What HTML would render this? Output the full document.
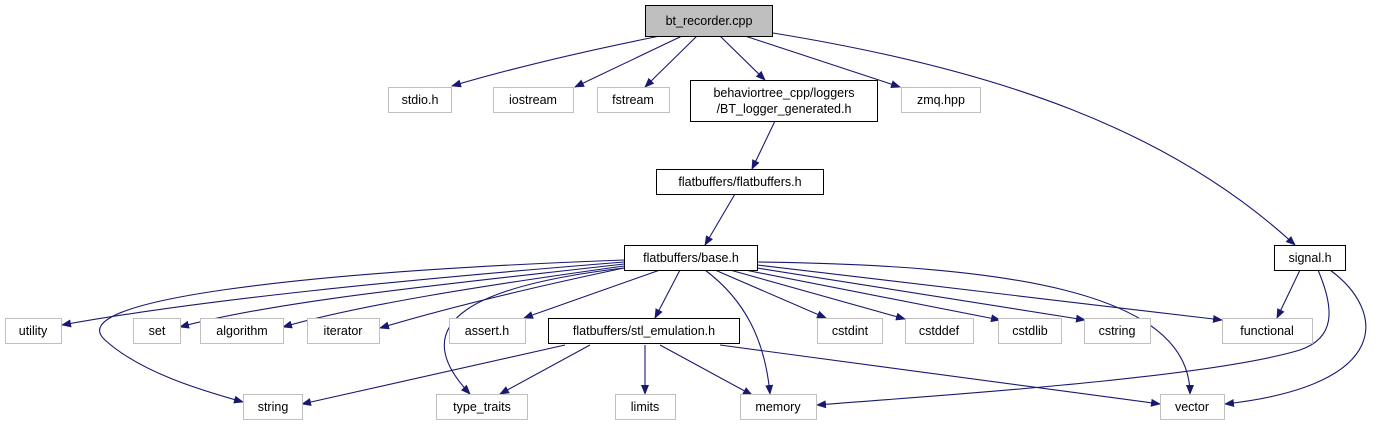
<!DOCTYPE html>
<html><head><meta charset="utf-8"><style>
html,body{margin:0;padding:0;background:#fff;}
svg text{font-family:"Liberation Sans","DejaVu Sans",sans-serif;font-size:12.5px;fill:#000;text-anchor:middle;}
</style></head><body>
<svg width="1380" height="425" viewBox="0 0 1380 425" xmlns="http://www.w3.org/2000/svg">
<defs><marker id="a" markerWidth="10" markerHeight="8" refX="9" refY="4" orient="auto" markerUnits="userSpaceOnUse"><path d="M0,0 L10,4 L0,8 z" fill="#191970"/></marker></defs>
<g fill="none" stroke="#191970" stroke-width="1.1" marker-end="url(#a)">
<path d="M660,36 Q540,60 452,86"/>
<path d="M682,36 L575,87"/>
<path d="M697,36 L645,87"/>
<path d="M720,36 L765,80"/>
<path d="M745,36 L900,87"/>
<path d="M773,33 C1000,70 1170,130 1295,245"/>
<path d="M775,121 L752,169"/>
<path d="M735,194 L705,245"/>
<path d="M624,262 C400,280 200,300 62,325"/>
<path d="M624,264 C450,284 280,300 180,327"/>
<path d="M624,266 C480,286 360,305 283,327"/>
<path d="M624,268 C520,290 440,310 380,328"/>
<path d="M660,270 L524,318"/>
<path d="M680,270 L655,318"/>
<path d="M624,260 C300,272 60,300 105,340 C140,372 200,390 243,402"/>
<path d="M624,268 C480,285 400,320 470,394"/>
<path d="M705,270 C745,300 765,340 770,394"/>
<path d="M715,270 L826,318"/>
<path d="M730,270 L905,319"/>
<path d="M745,270 L1000,320"/>
<path d="M757,268 L1085,320"/>
<path d="M757,265 L1222,320"/>
<path d="M757,262 C1000,265 1190,290 1190,394"/>
<path d="M565,345 L302,404"/>
<path d="M590,345 L500,394"/>
<path d="M645,345 L645,394"/>
<path d="M660,345 L752,395"/>
<path d="M720,345 L1160,404"/>
<path d="M1300,270 L1277,318"/>
<path d="M1318,270 C1335,310 1335,338 1300,350 C1200,380 900,398 817,405"/>
<path d="M1330,270 C1385,310 1395,385 1225,404"/>
</g>
<g stroke-width="1">
<rect x="645.5" y="5.5" width="127" height="31" fill="#bfbfbf" stroke="#000"/>
<g fill="#fff" stroke="#bfbfbf">
<rect x="388.5" y="87.5" width="63" height="25"/>
<rect x="493.5" y="87.5" width="80" height="25"/>
<rect x="597.5" y="87.5" width="72" height="25"/>
<rect x="901.5" y="87.5" width="79" height="25"/>
<rect x="5.5" y="318.5" width="56" height="25"/>
<rect x="133.5" y="318.5" width="47" height="25"/>
<rect x="200.5" y="318.5" width="83" height="25"/>
<rect x="307.5" y="318.5" width="72" height="25"/>
<rect x="449.5" y="318.5" width="76" height="25"/>
<rect x="817.5" y="318.5" width="65" height="25"/>
<rect x="905.5" y="318.5" width="68" height="25"/>
<rect x="998.5" y="318.5" width="63" height="25"/>
<rect x="1084.5" y="318.5" width="66" height="25"/>
<rect x="1222.5" y="318.5" width="90" height="25"/>
<rect x="243.5" y="394.5" width="59" height="25"/>
<rect x="436.5" y="394.5" width="91" height="25"/>
<rect x="615.5" y="394.5" width="60" height="25"/>
<rect x="740.5" y="394.5" width="76" height="25"/>
<rect x="1160.5" y="394.5" width="64" height="25"/>
</g>
<g fill="#fff" stroke="#000">
<rect x="690.5" y="80.5" width="187" height="41"/>
<rect x="656.5" y="169.5" width="167" height="25"/>
<rect x="624.5" y="245.5" width="133" height="25"/>
<rect x="1274.5" y="245.5" width="71" height="25"/>
<rect x="548.5" y="318.5" width="191" height="25"/>
</g>
</g>
<text x="709" y="25">bt_recorder.cpp</text>
<text x="420" y="104">stdio.h</text>
<text x="533" y="104">iostream</text>
<text x="633" y="104">fstream</text>
<text x="784" y="97">behaviortree_cpp/loggers</text>
<text x="784" y="113">/BT_logger_generated.h</text>
<text x="941" y="104">zmq.hpp</text>
<text x="740" y="186">flatbuffers/flatbuffers.h</text>
<text x="691" y="262">flatbuffers/base.h</text>
<text x="1310" y="262">signal.h</text>
<text x="33" y="335">utility</text>
<text x="157" y="335">set</text>
<text x="242" y="335">algorithm</text>
<text x="343" y="335">iterator</text>
<text x="487" y="335">assert.h</text>
<text x="644" y="335">flatbuffers/stl_emulation.h</text>
<text x="850" y="335">cstdint</text>
<text x="939" y="335">cstddef</text>
<text x="1030" y="335">cstdlib</text>
<text x="1117" y="335">cstring</text>
<text x="1267" y="335">functional</text>
<text x="273" y="411">string</text>
<text x="482" y="411">type_traits</text>
<text x="645" y="411">limits</text>
<text x="778" y="411">memory</text>
<text x="1192" y="411">vector</text>
</svg>
</body></html>
